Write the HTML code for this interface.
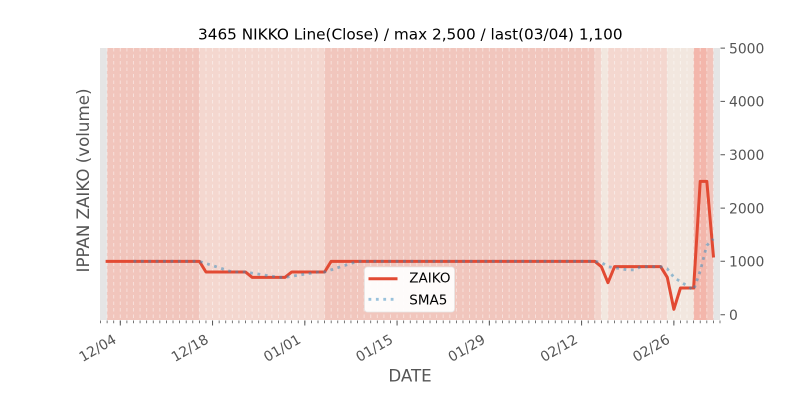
<!DOCTYPE html>
<html>
<head>
<meta charset="utf-8">
<style>
html,body{margin:0;padding:0;background:#fff;}
svg{display:block;}
text{font-family:"DejaVu Sans","Liberation Sans",sans-serif;}
</style>
</head>
<body>
<svg width="800" height="400" viewBox="0 0 800 400" xmlns="http://www.w3.org/2000/svg">
<rect x="0" y="0" width="800" height="400" fill="#ffffff"/>
<!-- plot background -->
<rect x="100" y="48" width="620" height="272" fill="#e5e5e5"/>
<!-- bands -->
<rect x="107.12" y="48" width="92.26" height="272" fill="#f1c5bc"/>
<rect x="199.38" y="48" width="125.21" height="272" fill="#f4d7cf"/>
<rect x="324.59" y="48" width="270.19" height="272" fill="#f1c6bd"/>
<rect x="594.78" y="48" width="6.59" height="272" fill="#f3d4cc"/>
<rect x="601.37" y="48" width="6.59" height="272" fill="#f2e7df"/>
<rect x="607.96" y="48" width="59.31" height="272" fill="#f4d7cf"/>
<rect x="667.27" y="48" width="26.36" height="272" fill="#f2e7df"/>
<rect x="693.63" y="48" width="13.18" height="272" fill="#f3b6ab"/>
<rect x="706.81" y="48" width="6.59" height="272" fill="#f2c4bb"/>
<!-- dashed day grid -->
<path fill="none" stroke="#ffffff" stroke-opacity="0.45" stroke-width="1" stroke-dasharray="3.5 3" d="M107.12 48V320M113.71 48V320M120.3 48V320M126.89 48V320M133.48 48V320M140.07 48V320M146.66 48V320M153.25 48V320M159.84 48V320M166.43 48V320M173.02 48V320M179.61 48V320M186.2 48V320M192.79 48V320M199.38 48V320M205.97 48V320M212.56 48V320M219.15 48V320M225.74 48V320M232.33 48V320M238.92 48V320M245.51 48V320M252.1 48V320M258.69 48V320M265.28 48V320M271.87 48V320M278.46 48V320M285.05 48V320M291.64 48V320M298.23 48V320M304.82 48V320M311.41 48V320M318 48V320M324.59 48V320M331.18 48V320M337.77 48V320M344.36 48V320M350.95 48V320M357.54 48V320M364.13 48V320M370.72 48V320M377.31 48V320M383.9 48V320M390.49 48V320M397.08 48V320M403.67 48V320M410.26 48V320M416.85 48V320M423.44 48V320M430.03 48V320M436.62 48V320M443.21 48V320M449.8 48V320M456.39 48V320M462.98 48V320M469.57 48V320M476.16 48V320M482.75 48V320M489.34 48V320M495.93 48V320M502.52 48V320M509.11 48V320M515.7 48V320M522.29 48V320M528.88 48V320M535.47 48V320M542.06 48V320M548.65 48V320M555.24 48V320M561.83 48V320M568.42 48V320M575.01 48V320M581.6 48V320M588.19 48V320M594.78 48V320M601.37 48V320M607.96 48V320M614.55 48V320M621.14 48V320M627.73 48V320M634.32 48V320M640.91 48V320M647.5 48V320M654.09 48V320M660.68 48V320M667.27 48V320M673.86 48V320M680.45 48V320M687.04 48V320M693.63 48V320M700.22 48V320M706.81 48V320M713.4 48V320"/>

<!-- ZAIKO line -->
<polyline fill="none" stroke="#e24a33" stroke-width="3" stroke-linejoin="round" stroke-linecap="square" points="107.12,261.33 199.38,261.33 205.97,272 245.51,272 252.1,277.33 285.05,277.33 291.64,272 324.59,272 331.18,261.33 594.78,261.33 601.37,266.67 607.96,282.67 614.55,266.67 660.68,266.67 667.27,277.33 673.86,309.33 680.45,288 693.63,288 700.22,181.33 706.81,181.33 713.4,256"/>
<!-- SMA5 line -->
<polyline fill="none" stroke="#348abd" stroke-opacity="0.5" stroke-width="2.8" stroke-dasharray="2.8 4.6" stroke-linejoin="round" points="133.48,261.33 199.38,261.33 205.97,263.47 212.56,265.6 219.15,267.73 225.74,269.87 232.33,272 245.51,272 252.1,273.07 258.69,274.13 265.28,275.2 271.87,276.27 278.46,277.33 285.05,277.33 291.64,276.27 298.23,275.2 304.82,274.13 311.41,273.07 318,272 324.59,272 331.18,269.87 337.77,267.73 344.36,265.6 350.95,263.47 357.54,261.33 594.78,261.33 601.37,262.4 607.96,266.67 614.55,267.73 621.14,268.8 627.73,269.87 634.32,269.87 640.91,266.67 660.68,266.67 667.27,268.8 673.86,277.33 680.45,281.6 687.04,285.87 693.63,290.13 700.22,270.93 706.81,245.33 713.4,238.93"/>

<!-- legend -->
<rect x="364.5" y="267" width="90" height="45" rx="3" ry="3" fill="#ffffff" fill-opacity="0.92" stroke="#e6e6e6" stroke-width="0.8"/>
<line x1="368.5" y1="278.7" x2="397.5" y2="278.7" stroke="#e24a33" stroke-width="3"/>
<line x1="368.5" y1="299.3" x2="398" y2="299.3" stroke="#348abd" stroke-opacity="0.5" stroke-width="2.8" stroke-dasharray="2.8 4.6"/>
<text x="409.3" y="282.7" font-size="13.5" fill="#000">ZAIKO</text>
<text x="409.3" y="304.3" font-size="13.5" fill="#000">SMA5</text>

<!-- x minor ticks -->
<path fill="none" stroke="#555555" stroke-width="0.8" d="M100.53 320.5v2.8M107.12 320.5v2.8M113.71 320.5v2.8M120.3 320.5v2.8M126.89 320.5v2.8M133.48 320.5v2.8M140.07 320.5v2.8M146.66 320.5v2.8M153.25 320.5v2.8M159.84 320.5v2.8M166.43 320.5v2.8M173.02 320.5v2.8M179.61 320.5v2.8M186.2 320.5v2.8M192.79 320.5v2.8M199.38 320.5v2.8M205.97 320.5v2.8M212.56 320.5v2.8M219.15 320.5v2.8M225.74 320.5v2.8M232.33 320.5v2.8M238.92 320.5v2.8M245.51 320.5v2.8M252.1 320.5v2.8M258.69 320.5v2.8M265.28 320.5v2.8M271.87 320.5v2.8M278.46 320.5v2.8M285.05 320.5v2.8M291.64 320.5v2.8M298.23 320.5v2.8M304.82 320.5v2.8M311.41 320.5v2.8M318 320.5v2.8M324.59 320.5v2.8M331.18 320.5v2.8M337.77 320.5v2.8M344.36 320.5v2.8M350.95 320.5v2.8M357.54 320.5v2.8M364.13 320.5v2.8M370.72 320.5v2.8M377.31 320.5v2.8M383.9 320.5v2.8M390.49 320.5v2.8M397.08 320.5v2.8M403.67 320.5v2.8M410.26 320.5v2.8M416.85 320.5v2.8M423.44 320.5v2.8M430.03 320.5v2.8M436.62 320.5v2.8M443.21 320.5v2.8M449.8 320.5v2.8M456.39 320.5v2.8M462.98 320.5v2.8M469.57 320.5v2.8M476.16 320.5v2.8M482.75 320.5v2.8M489.34 320.5v2.8M495.93 320.5v2.8M502.52 320.5v2.8M509.11 320.5v2.8M515.7 320.5v2.8M522.29 320.5v2.8M528.88 320.5v2.8M535.47 320.5v2.8M542.06 320.5v2.8M548.65 320.5v2.8M555.24 320.5v2.8M561.83 320.5v2.8M568.42 320.5v2.8M575.01 320.5v2.8M581.6 320.5v2.8M588.19 320.5v2.8M594.78 320.5v2.8M601.37 320.5v2.8M607.96 320.5v2.8M614.55 320.5v2.8M621.14 320.5v2.8M627.73 320.5v2.8M634.32 320.5v2.8M640.91 320.5v2.8M647.5 320.5v2.8M654.09 320.5v2.8M660.68 320.5v2.8M667.27 320.5v2.8M673.86 320.5v2.8M680.45 320.5v2.8M687.04 320.5v2.8M693.63 320.5v2.8M700.22 320.5v2.8M706.81 320.5v2.8M713.4 320.5v2.8M719.99 320.5v2.8"/>
<!-- x major ticks -->
<path fill="none" stroke="#555555" stroke-width="1" d="M120.3 320.5v5M212.56 320.5v5M304.82 320.5v5M397.08 320.5v5M489.34 320.5v5M581.6 320.5v5M673.86 320.5v5"/>

<!-- x tick labels -->
<g font-size="13.9" fill="#555555" text-anchor="end">
<text transform="translate(117.3,342.2) rotate(-30)">12/04</text>
<text transform="translate(209.56,342.2) rotate(-30)">12/18</text>
<text transform="translate(301.82,342.2) rotate(-30)">01/01</text>
<text transform="translate(394.08,342.2) rotate(-30)">01/15</text>
<text transform="translate(486.34,342.2) rotate(-30)">01/29</text>
<text transform="translate(578.6,342.2) rotate(-30)">02/12</text>
<text transform="translate(670.86,342.2) rotate(-30)">02/26</text>
</g>

<!-- y ticks (right side) -->
<path fill="none" stroke="#555555" stroke-width="1" d="M720.5 48.1h4.5M720.5 101.4h4.5M720.5 154.8h4.5M720.5 208.1h4.5M720.5 261.3h4.5M720.5 314.7h4.5"/>
<g font-size="13.9" fill="#555555">
<text x="729" y="53.4">5000</text>
<text x="729" y="106.7">4000</text>
<text x="729" y="160.1">3000</text>
<text x="729" y="213.4">2000</text>
<text x="729" y="266.6">1000</text>
<text x="729" y="320">0</text>
</g>

<!-- axis labels -->
<text x="410" y="381.5" font-size="16.67" fill="#555555" text-anchor="middle">DATE</text>
<text transform="translate(88.8,180.5) rotate(-90)" font-size="16.67" fill="#555555" text-anchor="middle">IPPAN ZAIKO (volume)</text>

<!-- title -->
<text x="410.3" y="39.3" font-size="15.28" fill="#000000" text-anchor="middle">3465 NIKKO Line(Close) / max 2,500 / last(03/04) 1,100</text>
</svg>
</body>
</html>
